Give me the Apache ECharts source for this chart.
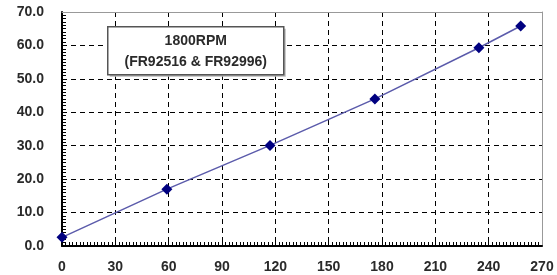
<!DOCTYPE html>
<html><head><meta charset="utf-8">
<script src="https://cdn.jsdelivr.net/npm/echarts@6/dist/echarts.min.js"></script>
<style>html,body{margin:0;padding:0;background:#fff}#c{width:557px;height:275px}</style>
</head><body><div id="c"></div>
<script>
var flowX = [0, 59, 117, 176, 234.5, 258];
var valueY = [2.6, 17.0, 30.1, 44.0, 59.3, 65.8];
var xTicks = [0, 30, 60, 90, 120, 150, 180, 210, 240, 270];
var yTicks = [0, 10, 20, 30, 40, 50, 60, 70];
var boxLines = ['1800RPM', '(FR92516 & FR92996)'];

var chart = echarts.init(document.getElementById('c'));
var font = {fontFamily: 'Liberation Sans, Arial, sans-serif', fontWeight: 'bold', fontSize: 14, color: '#2a2a2a'};
var gridBox = {left: 62, right: 15, top: 12, bottom: 29};
var dashed = {show: true, lineStyle: {color: '#000', type: [5, 4], width: 1}};
var solid = {show: true, lineStyle: {color: '#000', type: 'solid', width: 1}};
var points = flowX.map(function(x, i){return [x, valueY[i]];});
var hidden = {show: false, type: 'value', min: 0, max: 1};
chart.setOption({
  animation: false,
  grid: [
    Object.assign({}, gridBox),
    Object.assign({}, gridBox),
    {left: 62, right: 15, bottom: 29, height: 4},
    {left: 62, width: 4, top: 12, bottom: 29}
  ],
  xAxis: [{
    type: 'value', min: 0, max: 270, interval: 30,
    axisLine: {show: true, lineStyle: {color: '#000', width: 2}},
    axisTick: {show: false},
    splitLine: {show: false},
    axisLabel: Object.assign({margin: 14, formatter: function(v){return xTicks.indexOf(v) >= 0 ? String(v) : '';}}, font)
  }, {
    gridIndex: 1, type: 'value', min: 0, max: 270, interval: 30, position: 'top',
    axisLine: {show: true, onZero: false, lineStyle: {color: '#999', width: 1}},
    axisTick: {show: false}, axisLabel: {show: false}, splitLine: dashed
  }, {
    gridIndex: 2, type: 'value', min: 0, max: 270, interval: 2,
    axisLine: {show: false}, axisTick: {show: false}, axisLabel: {show: false}, splitLine: solid
  }, Object.assign({gridIndex: 3}, hidden)],
  yAxis: [{
    type: 'value', min: 0, max: 70, interval: 10,
    axisLine: {show: true, lineStyle: {color: '#000', width: 2}},
    axisTick: {show: false},
    splitLine: {show: false},
    axisLabel: Object.assign({margin: 18, formatter: function(v){return yTicks.indexOf(v) >= 0 ? v.toFixed(1) : '';}}, font)
  }, {
    gridIndex: 1, type: 'value', min: 0, max: 70, interval: 10, position: 'right',
    axisLine: {show: true, onZero: false, lineStyle: {color: '#999', width: 1}},
    axisTick: {show: false}, axisLabel: {show: false}, splitLine: dashed
  }, Object.assign({gridIndex: 2}, hidden), {
    gridIndex: 3, type: 'value', min: 0, max: 70, interval: 1,
    axisLine: {show: false}, axisTick: {show: false}, axisLabel: {show: false}, splitLine: solid
  }],
  series: [{
    type: 'line', data: points,
    symbol: 'diamond', symbolSize: 11,
    lineStyle: {color: '#5b5bab', width: 1.5},
    itemStyle: {color: '#000080'},
    z: 5
  }, {
    type: 'line', xAxisIndex: 1, yAxisIndex: 1, silent: true, data: points,
    symbol: 'none', lineStyle: {opacity: 0}
  }],
  graphic: [{
    type: 'group', left: 107, top: 26, z: 100,
    children: [
      {type: 'rect', z: 100, shape: {x: 2, y: 2, width: 176, height: 48}, style: {fill: '#bbb'}},
      {type: 'rect', z: 101, shape: {x: 0, y: 0, width: 176, height: 48}, style: {fill: '#fff', stroke: '#555', lineWidth: 1.5}},
      {type: 'text', z: 102, style: {text: boxLines[0], x: 88, y: 14, align: 'center', verticalAlign: 'middle', font: 'bold 14px "Liberation Sans", Arial, sans-serif', fill: '#2a2a2a'}},
      {type: 'text', z: 102, style: {text: boxLines[1], x: 88, y: 35, align: 'center', verticalAlign: 'middle', font: 'bold 14px "Liberation Sans", Arial, sans-serif', fill: '#2a2a2a'}}
    ]
  }]
});
</script></body></html>
